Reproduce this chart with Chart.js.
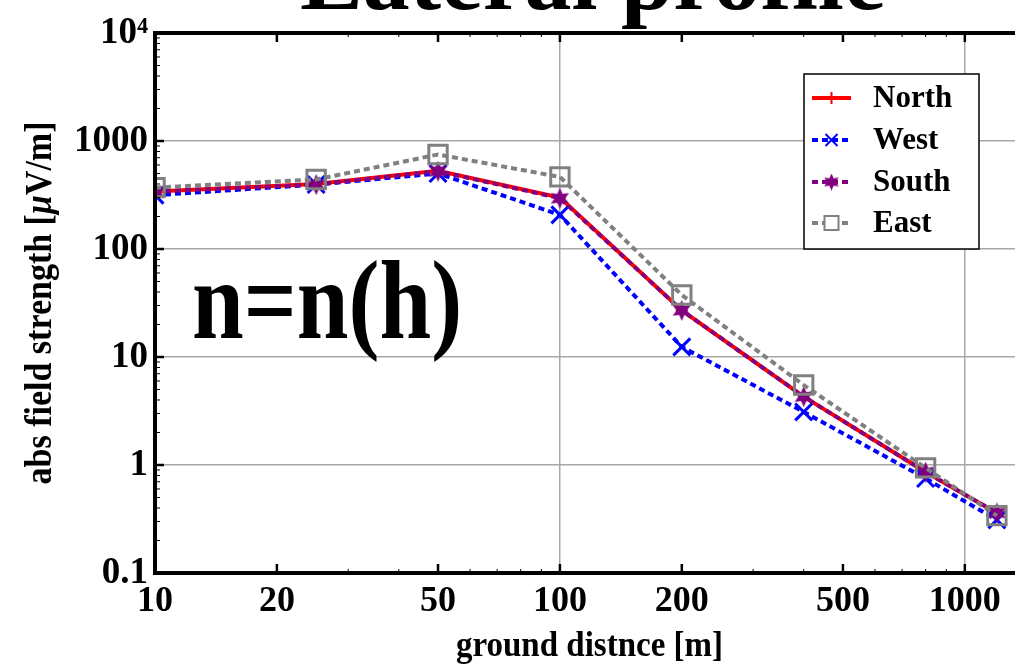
<!DOCTYPE html>
<html><head><meta charset="utf-8">
<script src="https://cdn.jsdelivr.net/npm/chart.js@4/dist/chart.umd.min.js"></script>
<style>
html,body{margin:0;padding:0;background:#fff;overflow:hidden;}
#wrap{position:relative;width:1040px;height:664px;}
</style></head><body>
<div id="wrap"><canvas id="c"></canvas></div>
<script>
const distances = [10, 25, 50, 100, 200, 400, 800, 1200];
const north = [340, 400, 530, 300, 27, 4.3, 0.86, 0.36];
const west  = [315, 395, 500, 207, 12.4, 3.1, 0.75, 0.31];
const south = [340, 395, 525, 295, 27, 4.3, 0.86, 0.36];
const east  = [370, 440, 750, 465, 37.5, 5.5, 0.94, 0.34];
const xTickValues = [10, 20, 50, 100, 200, 500, 1000];
const yTickValues = [0.1, 1, 10, 100, 1000, 10000];
const yTickLabels = ['0.1', '1', '10', '100', '1000', '10⁴'];
const seriesNames = ['North', 'West', 'South', 'East'];
const titleText = 'Lateral profile';
const annotationText = 'n=n(h)';
const xTitle = 'ground distnce [m]';
const yTitleParts = [['abs field strength [', false], ['\u03BC', true], ['V/m]', false]];

const FONT = '"Liberation Serif", "DejaVu Serif", serif';
const colors = ['#ff0000', '#0000ff', '#800080', '#808080'];
const dashes = [[], [6, 4], [6, 4], [6, 4]];

function makeStar(size, color) {
  const c = document.createElement('canvas');
  c.width = size; c.height = size;
  const g = c.getContext('2d');
  const cx = size / 2, cy = size / 2, R = size / 2, r = R * 0.5;
  g.beginPath();
  for (let i = 0; i < 12; i++) {
    const a = -Math.PI / 2 + i * Math.PI / 6;
    const rad = i % 2 ? r : R;
    g.lineTo(cx + rad * Math.cos(a), cy + rad * Math.sin(a));
  }
  g.closePath(); g.fillStyle = color; g.fill();
  return c;
}
const starBig = makeStar(21, colors[2]);
const starSmall = makeStar(17, colors[2]);

const pts = arr => distances.map((d, i) => ({ x: d, y: arr[i] }));

const datasets = [
  { label: seriesNames[0], data: pts(north), borderColor: colors[0], borderWidth: 4, borderDash: dashes[0],
    pointStyle: 'cross', pointRadius: 6, pointBorderWidth: 2, pointBorderColor: colors[0], order: 4 },
  { label: seriesNames[1], data: pts(west), borderColor: colors[1], borderWidth: 4, borderDash: dashes[1],
    pointStyle: 'crossRot', pointRadius: 12, pointBorderWidth: 3, pointBorderColor: colors[1], order: 3 },
  { label: seriesNames[2], data: pts(south), borderColor: colors[2], borderWidth: 4, borderDash: dashes[2],
    pointStyle: starBig, pointRadius: 10, order: 2 },
  { label: seriesNames[3], data: pts(east), borderColor: colors[3], borderWidth: 4, borderDash: dashes[3],
    pointStyle: 'rect', pointRadius: 13, pointBorderWidth: 3, pointBorderColor: colors[3],
    pointBackgroundColor: 'rgba(0,0,0,0)', order: 1 }
];
datasets.forEach(d => { d.tension = 0; d.fill = false; d.backgroundColor = d.pointBackgroundColor || d.borderColor; });

const gridColorX = c => (c.tick && (c.tick.value === 100 || c.tick.value === 1000)) ? '#a8a8a8' : 'rgba(0,0,0,0)';
const gridColorY = c => (c.tick && [1, 10, 100, 1000].includes(c.tick.value)) ? '#a8a8a8' : 'rgba(0,0,0,0)';

const decorPlugin = {
  id: 'decor',
  afterDatasetsDraw(chart) {
    const ctx = chart.ctx, ca = chart.chartArea;
    const xs = chart.scales.x, ys = chart.scales.y;
    ctx.save();
    ctx.strokeStyle = '#000';
    ctx.setLineDash([]);
    [1, 10, 100, 1000].forEach(dec => {
      for (let m = 1; m <= 9; m++) {
        const v = dec * m;
        if (v < xs.min || v > xs.max) continue;
        const px = xs.getPixelForValue(v);
        const major = xTickValues.includes(v);
        const len = major ? 9 : 4;
        ctx.lineWidth = major ? 2.5 : 1;
        ctx.beginPath();
        ctx.moveTo(px, ca.bottom); ctx.lineTo(px, ca.bottom - len);
        ctx.moveTo(px, ca.top); ctx.lineTo(px, ca.top + len);
        ctx.stroke();
      }
    });
    [0.1, 1, 10, 100, 1000].forEach(dec => {
      for (let m = 1; m <= 9; m++) {
        const v = dec * m;
        if (v < ys.min || v > ys.max) continue;
        const py = ys.getPixelForValue(v);
        const major = m === 1;
        const len = major ? 9 : 5;
        ctx.lineWidth = major ? 2.5 : 1;
        ctx.beginPath();
        ctx.moveTo(ca.left, py); ctx.lineTo(ca.left + len, py);
        ctx.moveTo(ca.right, py); ctx.lineTo(ca.right - len, py);
        ctx.stroke();
      }
    });
    ctx.lineWidth = 4;
    ctx.strokeRect(ca.left, ca.top, ca.right - ca.left, ca.bottom - ca.top);

    ctx.fillStyle = '#000';
    ctx.textAlign = 'left';
    ctx.textBaseline = 'alphabetic';
    ctx.font = 'bold 94px ' + FONT;
    ctx.fillText(titleText, 300, 9);

    ctx.save();
    ctx.translate(192, 338);
    ctx.scale(1, 1.2);
    ctx.font = 'bold 93px ' + FONT;
    ctx.fillText(annotationText, 0, 0);
    ctx.restore();

    // x axis title
    ctx.save();
    ctx.translate((ca.left + ca.right) / 2, 656);
    ctx.scale(1, 1.1);
    ctx.font = 'bold 33px ' + FONT;
    ctx.textAlign = 'center';
    ctx.fillText(xTitle, 0, 0);
    ctx.restore();

    // y axis title (rotated, italic mu)
    ctx.save();
    ctx.translate(51, (ca.top + ca.bottom) / 2);
    ctx.rotate(-Math.PI / 2);
    ctx.scale(1, 1.1);
    ctx.textAlign = 'left';
    const fonts = yTitleParts.map(p => (p[1] ? 'italic bold 34px ' : 'bold 34px ') + FONT);
    let total = 0;
    const widths = yTitleParts.map((p, i) => { ctx.font = fonts[i]; const w = ctx.measureText(p[0]).width; total += w; return w; });
    let xpos = -total / 2;
    yTitleParts.forEach((p, i) => { ctx.font = fonts[i]; ctx.fillText(p[0], xpos, 0); xpos += widths[i]; });
    ctx.restore();

    const lx = 804, ly = 74, lw = 175, lh = 175;
    ctx.fillStyle = '#fff';
    ctx.fillRect(lx, ly, lw, lh);
    ctx.lineWidth = 1.5;
    ctx.strokeStyle = '#000';
    ctx.strokeRect(lx, ly, lw, lh);
    const rows = [98, 140, 182, 223];
    seriesNames.forEach((name, i) => {
      const y = rows[i];
      const x0 = 812, x1 = 851, xc = (x0 + x1) / 2;
      ctx.save();
      ctx.strokeStyle = colors[i];
      ctx.lineWidth = 4;
      ctx.setLineDash(dashes[i]);
      ctx.beginPath(); ctx.moveTo(x0, y); ctx.lineTo(x1, y); ctx.stroke();
      ctx.setLineDash([]);
      if (i === 0) {
        ctx.lineWidth = 2;
        ctx.beginPath(); ctx.moveTo(xc, y - 6); ctx.lineTo(xc, y + 6); ctx.stroke();
      } else if (i === 1) {
        ctx.lineWidth = 2;
        ctx.beginPath();
        ctx.moveTo(xc - 6, y - 6); ctx.lineTo(xc + 6, y + 6);
        ctx.moveTo(xc + 6, y - 6); ctx.lineTo(xc - 6, y + 6);
        ctx.stroke();
      } else if (i === 2) {
        ctx.drawImage(starSmall, xc - 8.5, y - 8.5);
      } else {
        ctx.lineWidth = 2;
        ctx.fillStyle = '#fff';
        ctx.fillRect(xc - 7, y - 7, 14, 14);
        ctx.strokeRect(xc - 7, y - 7, 14, 14);
      }
      ctx.restore();
      ctx.fillStyle = '#000';
      ctx.font = 'bold 31px ' + FONT;
      ctx.textBaseline = 'middle';
      ctx.textAlign = 'left';
      ctx.fillText(name, 873, y + 1);
    });
    ctx.restore();
  }
};

new Chart(document.getElementById('c'), {
  type: 'line',
  data: { datasets },
  options: {
    responsive: true,
    maintainAspectRatio: false,
    animation: false,
    events: [],
    layout: { padding: { left: 20, top: 33, right: 12, bottom: 0 } },
    plugins: { legend: { display: false }, tooltip: { enabled: false }, title: { display: false } },
    scales: {
      x: {
        type: 'logarithmic', min: 10, max: 1400,
        afterBuildTicks: s => { s.ticks = xTickValues.map(v => ({ value: v })); },
        afterFit: s => { s.height = 91; },
        ticks: {
          autoSkip: false, maxRotation: 0, minRotation: 0, padding: 7, color: '#000',
          font: { family: FONT, size: 36, weight: 'bold' },
          callback: v => String(v)
        },
        grid: { color: gridColorX, lineWidth: 1.5, drawTicks: false },
        border: { display: false }
      },
      y: {
        type: 'logarithmic', min: 0.1, max: 10000,
        afterBuildTicks: s => { s.ticks = yTickValues.map(v => ({ value: v })); },
        afterFit: s => { s.width = 135; },
        ticks: {
          autoSkip: false, padding: 7, color: '#000',
          font: { family: FONT, size: 37, weight: 'bold' },
          callback: (v, i) => yTickLabels[i]
        },
        grid: { color: gridColorY, lineWidth: 1.5, drawTicks: false },
        border: { display: false }
      }
    }
  },
  plugins: [decorPlugin]
});
</script>
</body></html>
